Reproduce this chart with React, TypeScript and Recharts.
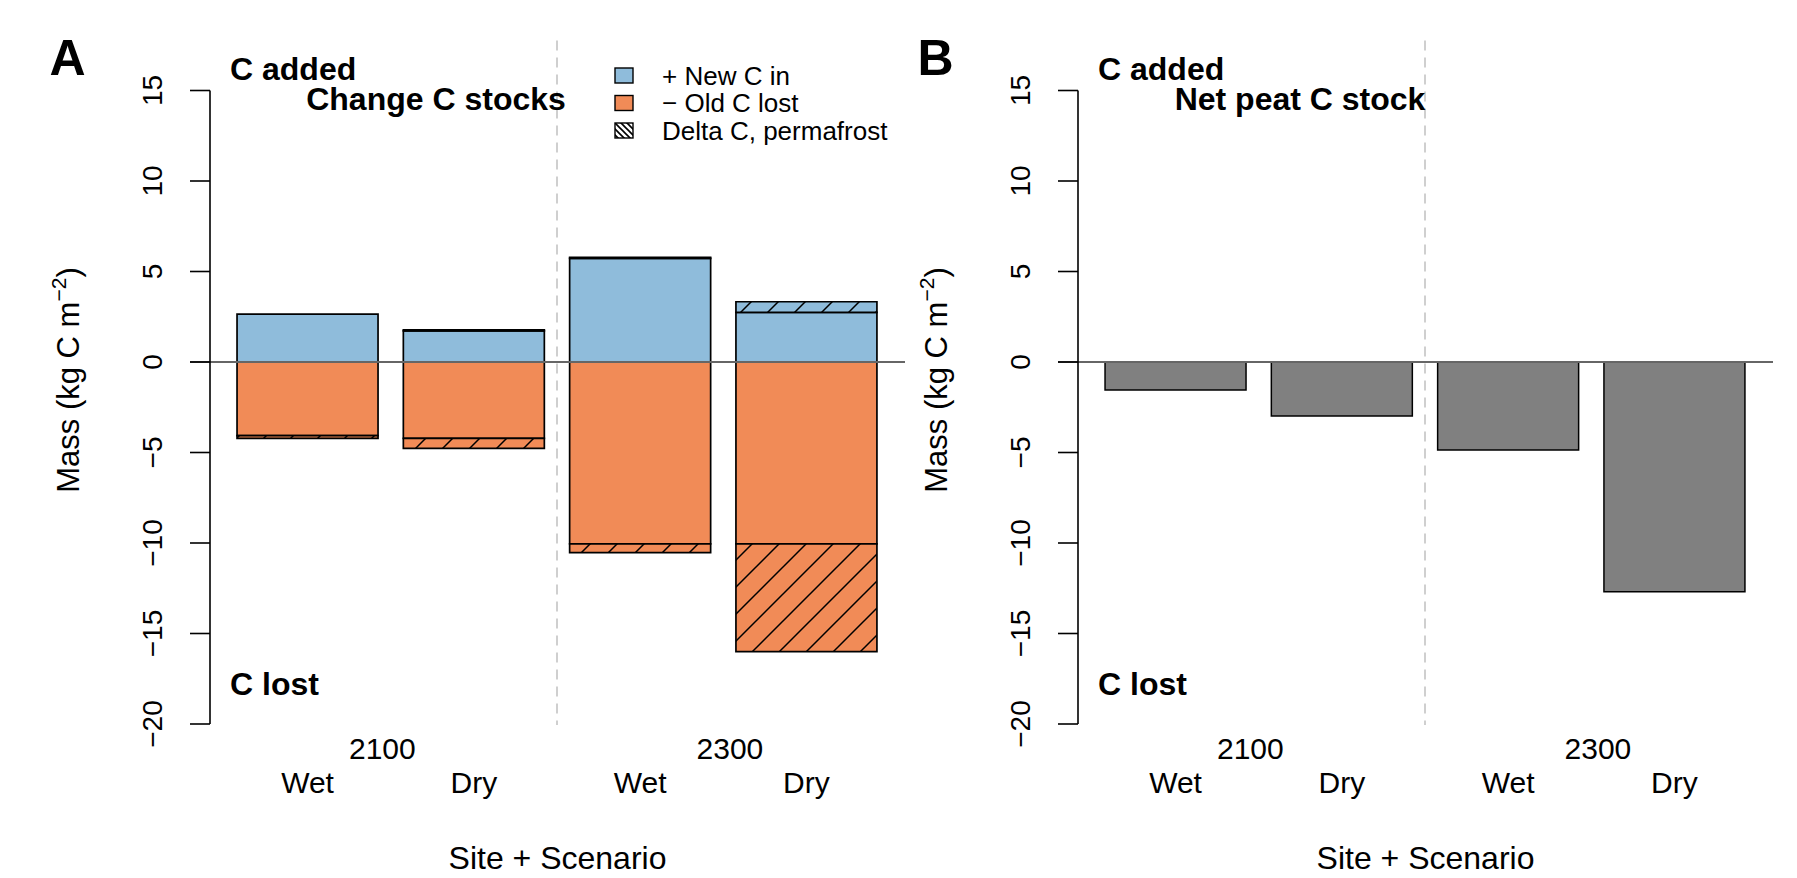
import React from 'react';
import { BarChart, Bar, XAxis, YAxis, ReferenceLine } from 'recharts';

// ---------- data ----------
const periods = ['2100', '2100', '2300', '2300'];
const scenarios = ['Wet', 'Dry', 'Wet', 'Dry'];
const newCarbonIn = [2.65, 1.72, 5.73, 2.74];
const newCarbonPermafrost = [0, 0.05, 0.05, 0.59];
const oldCarbonLost = [-4.07, -4.22, -10.05, -10.05];
const oldCarbonPermafrost = [-0.15, -0.55, -0.48, -5.95];
const netPeatStock = [-1.55, -2.98, -4.86, -12.69];
const yTicks = [-20, -15, -10, -5, 0, 5, 10, 15];
// group label position, in bar-slot units from the first slot's left edge
const groupLabelPos: Record<string, number> = { '2100': 0.95, '2300': 3.04 };
const legendLabels = ['+ New C in', '\u2212 Old C lost', 'Delta C, permafrost'];

const rows = scenarios.map((s, i) => ({
  id: `${periods[i]} ${s}`,
  period: periods[i],
  scenario: s,
  newC: newCarbonIn[i],
  newPerm: newCarbonPermafrost[i],
  oldC: oldCarbonLost[i],
  oldPerm: oldCarbonPermafrost[i],
  net: netPeatStock[i],
}));
const rowById: Record<string, (typeof rows)[number]> = {};
rows.forEach((r) => (rowById[r.id] = r));
const firstOfGroup: Record<string, number> = {};
rows.forEach((r, i) => {
  if (firstOfGroup[r.period] === undefined) firstOfGroup[r.period] = i;
});

// ---------- style ----------
const FONT = '"Liberation Sans", Arial, Helvetica, sans-serif';
const BLUE = '#8fbcdb';
const ORANGE = '#f18b57';
const GREY = '#808080';
const W = 920;
const H = 878;
const PANEL_B_SHIFT = 868;
const MARGIN = { top: 90.5, right: 15, bottom: 0, left: 150 };
const PAD = { left: 14.4, right: 15.4 };
const PLOT_W = W - MARGIN.left - 60 - MARGIN.right;
const BAND = (PLOT_W - PAD.left - PAD.right) / rows.length;

const fmt = (v: number) => (v < 0 ? `\u2212${Math.abs(v)}` : `${v}`);

const YTick = (props: any) => {
  const { x, y, payload } = props;
  const bx = x - 28;
  return (
    <text x={bx} y={y} transform={`rotate(-90 ${bx} ${y})`} textAnchor="middle" fontSize={28} fontFamily={FONT} fill="#000">
      {fmt(payload.value)}
    </text>
  );
};

const CatTick = (props: any) => {
  const { x, y, payload, index } = props;
  const row = rowById[payload.value];
  const isFirst = row && firstOfGroup[row.period] === index;
  const gx = isFirst ? x + (groupLabelPos[row.period] - index - 0.5) * BAND : 0;
  return (
    <g fontFamily={FONT} fill="#000">
      <text x={x} y={y + 69} textAnchor="middle" fontSize={30}>
        {row ? row.scenario : ''}
      </text>
      {isFirst && (
        <text x={gx} y={y + 35} textAnchor="middle" fontSize={30}>
          {row.period}
        </text>
      )}
    </g>
  );
};

const SiteLabel = (props: any) => {
  const vb = props.viewBox || {};
  return (
    <text x={vb.x + vb.width / 2} y={vb.y + vb.height - 9} textAnchor="middle" fontSize={32} fontFamily={FONT} fill="#000">
      Site + Scenario
    </text>
  );
};

const ZeroLine = (props: any) => {
  const { x1, x2, y1 } = props;
  return <line x1={Math.min(x1, x2) - 20} x2={Math.max(x1, x2)} y1={y1} y2={y1} stroke="#666" strokeWidth={2.2} />;
};

const Divider = (props: any) => {
  const { x1, y1, y2 } = props;
  const top = Math.min(y1, y2);
  const bottom = Math.max(y1, y2);
  return (
    <line x1={x1} x2={x1} y1={top - 50} y2={bottom + 1} stroke="#c4c4c4" strokeWidth={1.6} strokeDasharray="10 7" />
  );
};

function PanelChart({ left, kind }: { left: number; kind: 'A' | 'B' }) {
  return (
    <div style={{ position: 'absolute', left, top: 0, width: W, height: H }}>
      <BarChart width={W} height={H} data={rows} margin={MARGIN} stackOffset="sign" barCategoryGap="7.6%">
        <defs>
          <pattern id={`hatchO${kind}`} patternUnits="userSpaceOnUse" width="27" height="27">
            <rect width="27" height="27" fill={ORANGE} />
            <path d="M-3,3 L3,-3 M0,27 L27,0 M24,30 L30,24" stroke="#000" strokeWidth="1.5" />
          </pattern>
          <pattern id={`hatchB${kind}`} patternUnits="userSpaceOnUse" width="27" height="27">
            <rect width="27" height="27" fill={BLUE} />
            <path d="M-3,3 L3,-3 M0,27 L27,0 M24,30 L30,24" stroke="#000" strokeWidth="1.5" />
          </pattern>
        </defs>
        <XAxis
          xAxisId="cat"
          dataKey="id"
          type="category"
          padding={PAD}
          height={154}
          axisLine={false}
          tickLine={false}
          tickSize={0}
          tickMargin={0}
          interval={0}
          tick={<CatTick />}
          label={<SiteLabel />}
        />
        <YAxis
          type="number"
          domain={[-20, 15]}
          ticks={yTicks}
          interval={0}
          allowDataOverflow
          width={60}
          tickSize={20}
          tickMargin={0}
          axisLine={{ stroke: '#000', strokeWidth: 1.6 }}
          tickLine={{ stroke: '#000', strokeWidth: 1.6 }}
          tick={<YTick />}
        />
        {kind === 'A' ? (
          <>
            <Bar xAxisId="cat" dataKey="newC" stackId="s" fill={BLUE} stroke="#000" strokeWidth={1.7} isAnimationActive={false} />
            <Bar xAxisId="cat" dataKey="newPerm" stackId="s" fill={`url(#hatchB${kind})`} stroke="#000" strokeWidth={1.7} isAnimationActive={false} />
            <Bar xAxisId="cat" dataKey="oldC" stackId="s" fill={ORANGE} stroke="#000" strokeWidth={1.7} isAnimationActive={false} />
            <Bar xAxisId="cat" dataKey="oldPerm" stackId="s" fill={`url(#hatchO${kind})`} stroke="#000" strokeWidth={1.7} isAnimationActive={false} />
          </>
        ) : (
          <Bar xAxisId="cat" dataKey="net" fill={GREY} stroke="#000" strokeWidth={1.5} isAnimationActive={false} />
        )}
        <ReferenceLine xAxisId="cat" y={0} shape={<ZeroLine />} />
        <ReferenceLine xAxisId="cat" x={rows[1].id} position="end" shape={<Divider />} />
      </BarChart>
    </div>
  );
}

function PanelText({ left, tag, title, titleX }: { left: number; tag: string; title: string; titleX: number }) {
  return (
    <g transform={`translate(${left},0)`} fontFamily={FONT} fill="#000">
      <text x={67.5} y={75} textAnchor="middle" fontSize={50} fontWeight="bold">{tag}</text>
      <text x={230} y={80} fontSize={32} fontWeight="bold">C added</text>
      <text x={titleX} y={110} textAnchor="middle" fontSize={32} fontWeight="bold">{title}</text>
      <text x={230} y={695} fontSize={32} fontWeight="bold">C lost</text>
      <text x={79} y={380} transform={`rotate(-90 79 380)`} textAnchor="middle" fontSize={31}>
        Mass (kg C m<tspan fontSize={21} dy={-13}>{'\u22122'}</tspan><tspan dy={13}>)</tspan>
      </text>
    </g>
  );
}

function Legend() {
  const rowsY = [75.5, 103, 130.5];
  return (
    <g fontFamily={FONT} fill="#000">
      <defs>
        <pattern id="legHatch" patternUnits="userSpaceOnUse" width="6" height="6">
          <rect width="6" height="6" fill="#fff" />
          <path d="M-1.5,-1.5 L7.5,7.5 M-1.5,4.5 L1.5,7.5 M4.5,-1.5 L7.5,1.5" stroke="#000" strokeWidth="1.6" />
        </pattern>
      </defs>
      <rect x={615} y={rowsY[0] - 7.5} width={18} height={15} fill={BLUE} stroke="#000" strokeWidth={1.4} />
      <rect x={615} y={rowsY[1] - 7.5} width={18} height={15} fill={ORANGE} stroke="#000" strokeWidth={1.4} />
      <rect x={615} y={rowsY[2] - 7.5} width={18} height={15} fill="url(#legHatch)" stroke="#000" strokeWidth={1.4} />
      {legendLabels.map((l, i) => (
        <text key={l} x={662} y={rowsY[i] + 9} fontSize={26}>{l}</text>
      ))}
    </g>
  );
}

export default function App() {
  return (
    <div style={{ position: 'absolute', left: 0, top: 0, width: 1797, height: 878, background: '#fff', overflow: 'hidden' }}>
      <PanelChart left={0} kind="A" />
      <PanelChart left={PANEL_B_SHIFT} kind="B" />
      <svg width={1797} height={878} style={{ position: 'absolute', left: 0, top: 0, pointerEvents: 'none' }}>
        <PanelText left={0} tag="A" title="Change C stocks" titleX={436} />
        <PanelText left={PANEL_B_SHIFT} tag="B" title="Net peat C stock" titleX={432} />
        <Legend />
      </svg>
    </div>
  );
}
